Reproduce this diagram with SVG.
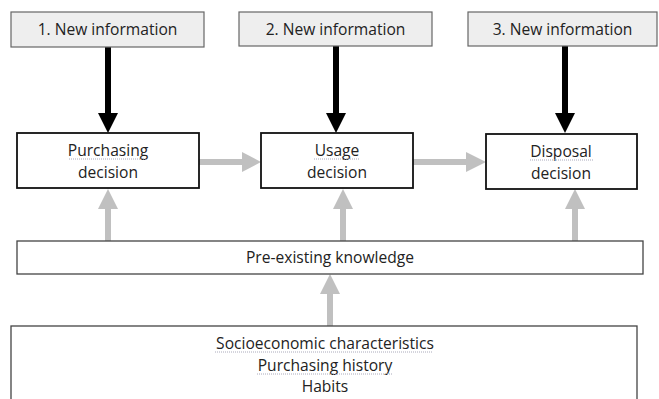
<svg xmlns="http://www.w3.org/2000/svg" width="659" height="399" viewBox="0 0 659 399">
<style>
text{font-family:"Open Sans","Liberation Sans",sans-serif;font-size:15.6px;fill:#222;text-anchor:middle}
.info{fill:#eeeeee;stroke:#666;stroke-width:1.2}
.dec{fill:#fff;stroke:#111;stroke-width:1.8}
.box{fill:#fff;stroke:#444;stroke-width:1.3}
.blk{stroke:#000;stroke-width:6;fill:none}
.gry{stroke:#c0c0c0;stroke-width:6;fill:none}
.hb{fill:#000}
.hg{fill:#c0c0c0}
.sq{fill:none;stroke:#aab;stroke-width:1;stroke-dasharray:1 1}
</style>
<rect width="659" height="399" fill="#fff"/>
<g id="connectors">
<line class="blk" x1="108" y1="47" x2="108" y2="114"/>
<polygon class="hb" points="98,113 118,113 108,133"/>
<line class="blk" x1="336" y1="46" x2="336" y2="114"/>
<polygon class="hb" points="326,113 346,113 336,133"/>
<line class="blk" x1="565" y1="46" x2="565" y2="114"/>
<polygon class="hb" points="555,113 575,113 565,133"/>
<line class="gry" x1="199" y1="162" x2="243" y2="162"/>
<polygon class="hg" points="242,152 242,172 261,162"/>
<line class="gry" x1="413" y1="162" x2="467" y2="162"/>
<polygon class="hg" points="466,152 466,172 486,162"/>
<line class="gry" x1="108" y1="241" x2="108" y2="208"/>
<polygon class="hg" points="98,209 118,209 108,189"/>
<line class="gry" x1="343" y1="241" x2="343" y2="208"/>
<polygon class="hg" points="333,209 353,209 343,189"/>
<line class="gry" x1="575" y1="241" x2="575" y2="208"/>
<polygon class="hg" points="565,209 585,209 575,189"/>
<line class="gry" x1="330" y1="326" x2="330" y2="293"/>
<polygon class="hg" points="320,294 340,294 330,274"/>
</g>
<g id="info1"><rect class="info" x="11" y="12" width="193" height="35"/><text x="107.5" y="35">1. New information</text></g>
<g id="info2"><rect class="info" x="239" y="12" width="193" height="34"/><text x="335.5" y="35">2. New information</text></g>
<g id="info3"><rect class="info" x="468" y="12" width="189" height="34"/><text x="562.5" y="35">3. New information</text></g>
<g id="purchasing"><rect class="dec" x="17" y="133" width="182" height="55"/><text x="108" y="156">Purchasing</text><text x="108" y="178">decision</text><path class="sq" d="M69,159 H147"/></g>
<g id="usage"><rect class="dec" x="261" y="133" width="152" height="55"/><text x="337" y="156">Usage</text><text x="337" y="178">decision</text><path class="sq" d="M314,159 H360"/></g>
<g id="disposal"><rect class="dec" x="486" y="134" width="151" height="55"/><text x="561" y="157">Disposal</text><text x="561" y="179">decision</text><path class="sq" d="M530,160 H593"/></g>
<g id="knowledge"><rect class="box" x="17" y="241" width="626" height="33"/><text x="330" y="263">Pre-existing knowledge</text></g>
<g id="background"><rect class="box" x="11" y="326" width="626" height="80"/><text x="325" y="349">Socioeconomic characteristics</text><text x="325" y="371">Purchasing history</text><text x="325" y="392">Habits</text><path class="sq" d="M215,352 H433"/><path class="sq" d="M257,374 H392"/></g>
</svg>
